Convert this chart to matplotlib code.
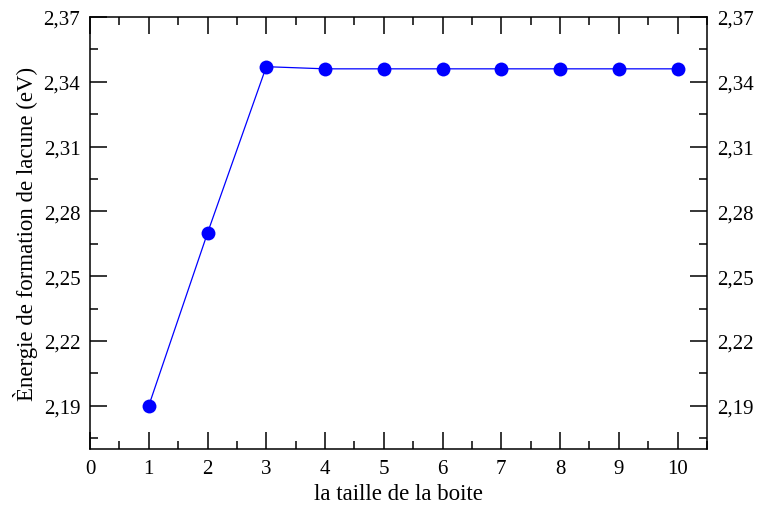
import numpy as np
import matplotlib
matplotlib.use("Agg")
import matplotlib.pyplot as plt
from matplotlib.ticker import MultipleLocator, FuncFormatter

# taille de la boite vs energie de formation de lacune
taille = [1, 2, 3, 4, 5, 6, 7, 8, 9, 10]
energie = [2.190, 2.270, 2.347, 2.346, 2.346, 2.346, 2.346, 2.346, 2.346, 2.346]

plt.rcParams["font.family"] = ["Liberation Serif", "DejaVu Serif"]

fig = plt.figure(figsize=(7.58, 5.06), dpi=100)
ax = fig.add_axes([90 / 758, 56 / 506, 617 / 758, 432 / 506])

ax.plot(taille, energie, color="blue", linewidth=0.9,
        marker="o", markersize=10, markeredgewidth=0)

ax.set_xlim(0, 10.5)
ax.set_ylim(2.17, 2.37)
ax.xaxis.set_major_locator(MultipleLocator(1))
ax.xaxis.set_minor_locator(MultipleLocator(0.5))
ax.set_yticks(np.arange(2.19, 2.371, 0.03))
ax.set_yticks(np.arange(2.175, 2.37, 0.03), minor=True)
ax.yaxis.set_major_formatter(FuncFormatter(lambda v, p: f"{v:.2f}".replace(".", ",")))

ax.tick_params(which="both", direction="in", top=True, right=True,
               labelright=True, labelsize=15, width=1.1, pad=7)
ax.tick_params(which="major", length=12)
ax.tick_params(which="minor", length=6)
for s in ax.spines.values():
    s.set_linewidth(1.1)

ax.set_xlabel("la taille de la boite", fontsize=16.5, labelpad=4)
ax.set_ylabel("Ènergie de formation de lacune (eV)", fontsize=16.5, labelpad=4)

fig.savefig("out.png", dpi=100)
